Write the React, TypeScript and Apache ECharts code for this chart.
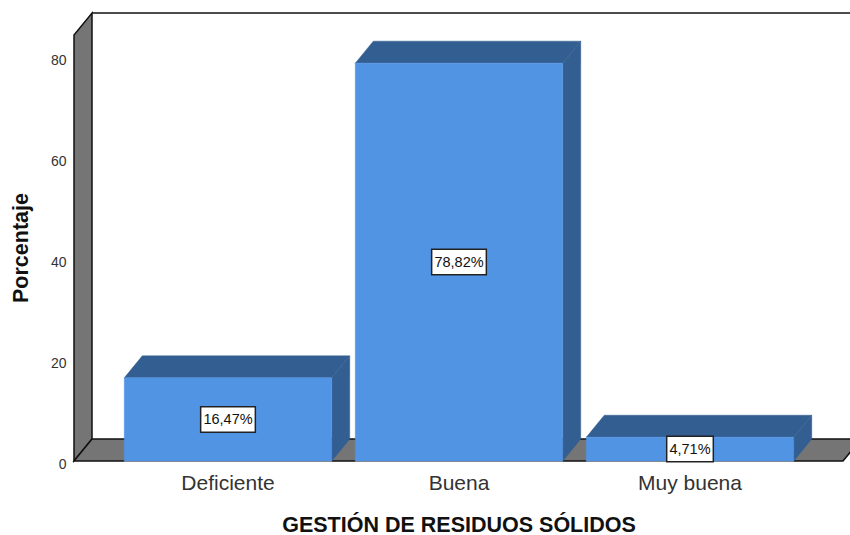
import React, { useEffect, useRef } from "react";
import * as echarts from "echarts";

const categories = ["Deficiente", "Buena", "Muy buena"];
const percentages = [16.47, 78.82, 4.71];
const valueLabels = ["16,47%", "78,82%", "4,71%"];
const yMax = 84.4;
const depthX = 18;
const depthY = -22;

function poly(points: number[][], fill: string, stroke: string, lineWidth = 1) {
  return {
    type: "polygon",
    shape: { points },
    style: { fill, stroke, lineWidth },
  };
}

function renderFrame(params: any, api: any) {
  const y0 = api.coord([0, 0])[1];
  const yTop = api.coord([0, yMax])[1];
  const left = 74;
  const right = 843;
  const black = "#111111";
  const gray = "#757575";
  return {
    type: "group",
    children: [
      poly([[left, y0], [left, yTop], [left + depthX, yTop + depthY], [left + depthX, y0 + depthY]], gray, black, 1.5),
      poly([[left, y0], [left + depthX, y0 + depthY], [right + depthX, y0 + depthY], [right, y0]], gray, black, 1.5),
      { type: "line", shape: { x1: left + depthX, y1: yTop + depthY, x2: 850, y2: yTop + depthY }, style: { stroke: black, lineWidth: 1.5 } },
    ],
  };
}

function renderBar(params: any, api: any) {
  const i = api.value(0);
  const v = api.value(1);
  const c = api.coord([i, v]);
  const base = api.coord([i, 0]);
  const w = api.size([1, 0])[0] * 0.898;
  const l = c[0] - w / 2;
  const r = c[0] + w / 2;
  const front = "#5294E4";
  const dark = "#335E91";
  const edge = "#7f8a96";
  return {
    type: "group",
    children: [
      poly([[r, base[1]], [r, c[1]], [r + depthX, c[1] + depthY], [r + depthX, base[1] + depthY]], dark, dark, 0.5),
      poly([[l, c[1]], [l + depthX, c[1] + depthY], [r + depthX, c[1] + depthY], [r, c[1]]], dark, dark, 0.5),
      poly([[l, base[1]], [l, c[1]], [r, c[1]], [r, base[1]]], front, front, 0.5),
      { type: "line", shape: { x1: l, y1: base[1] + 0.5, x2: r, y2: base[1] + 0.5 }, style: { stroke: edge, lineWidth: 1 } },
      {
        type: "text",
        x: c[0],
        y: (c[1] + base[1]) / 2,
        style: {
          text: valueLabels[i],
          align: "center",
          verticalAlign: "middle",
          fill: "#111111",
          font: "14.5px 'Liberation Sans'",
          backgroundColor: "#ffffff",
          borderColor: "#222222",
          borderWidth: 1.5,
          padding: [5, 2, 4, 2],
        },
      },
    ],
  };
}

export default function App() {
  const ref = useRef<HTMLDivElement>(null);
  useEffect(() => {
    document.body.style.margin = "0";
    const chart = echarts.init(ref.current!, undefined, { renderer: "svg" });
    chart.setOption({
      animation: false,
      backgroundColor: "#ffffff",
      textStyle: { fontFamily: "'Liberation Sans'" },
      grid: { left: 112.5, width: 693, top: 35, height: 426, outerBoundsMode: "none" },
      xAxis: {
        type: "category",
        data: categories,
        axisLine: { show: false },
        axisTick: { show: false },
        axisLabel: { margin: 11, fontSize: 21, color: "#333333", fontFamily: "'Liberation Sans'" },
        name: "GESTIÓN DE RESIDUOS SÓLIDOS",
        nameLocation: "middle",
        nameGap: 55,
        nameTextStyle: { fontSize: 21.5, lineHeight: 18, fontWeight: "bold", color: "#111111", fontFamily: "'Liberation Sans'" },
      },
      yAxis: {
        type: "value",
        min: 0,
        max: yMax,
        interval: 20,
        offset: 38.5,
        axisLine: { show: false },
        axisTick: { show: false },
        splitLine: { show: false },
        axisLabel: {
          showMaxLabel: false,
          margin: 7.5,
          fontSize: 14,
          verticalAlign: "bottom",
          lineHeight: 14,
          padding: [0, 0, -9.5, 0],
          color: "#333333",
          fontFamily: "'Liberation Sans'",
        },
        name: "Porcentaje",
        nameLocation: "middle",
        nameGap: 42,
        nameTextStyle: { fontSize: 21.5, fontWeight: "bold", color: "#111111", fontFamily: "'Liberation Sans'" },
      },
      series: [
        { type: "custom", z: 1, silent: true, clip: false, renderItem: renderFrame, data: [[0, 0]], encode: { x: 0, y: 1 } },
        {
          type: "custom",
          z: 2,
          silent: true,
          clip: false,
          renderItem: renderBar,
          data: percentages.map((v, i) => [i, v]),
          encode: { x: 0, y: 1 },
        },
      ],
    });
    return () => chart.dispose();
  }, []);
  return <div ref={ref} style={{ width: 850, height: 535 }} />;
}
